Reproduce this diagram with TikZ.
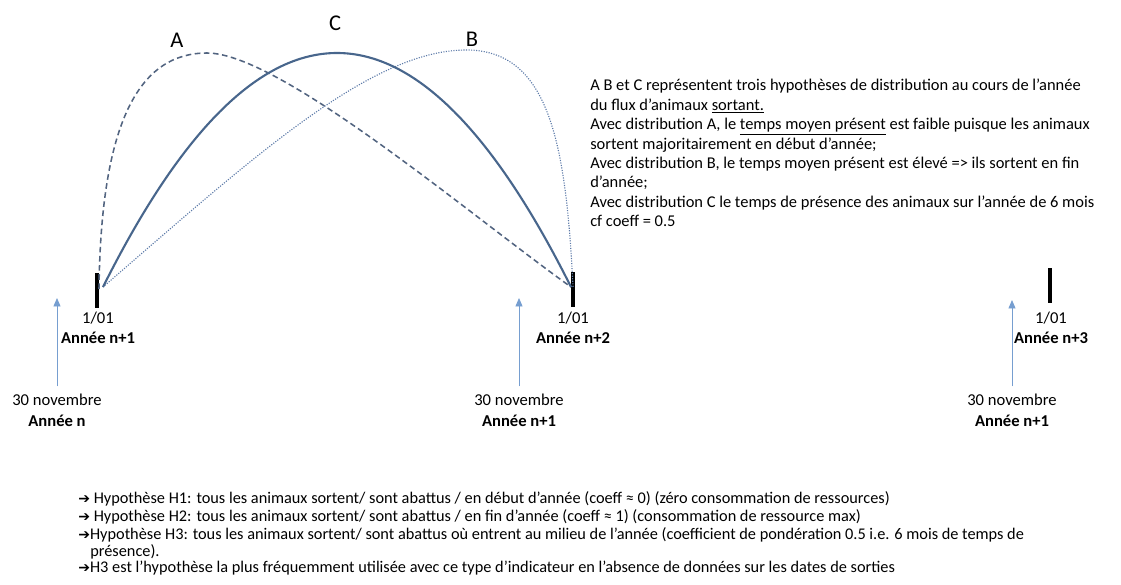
\documentclass[tikz,border=0pt]{standalone}
\usepackage{fontspec}
\setmainfont{Carlito}
\newfontfamily\symfont{DejaVu Sans}
\usetikzlibrary{positioning, arrows.meta, calc}

\definecolor{curveC}{RGB}{72,102,140}
\definecolor{curveA}{RGB}{82,100,128}
\definecolor{curveB}{RGB}{92,122,168}
\definecolor{novarrow}{RGB}{118,158,208}

\newcommand{\harrow}{{\symfont\fontsize{10}{12}\selectfont ➔}}

\begin{document}
\begin{tikzpicture}[
    x=0.025cm, y=-0.025cm,
    font=\fontsize{11.8}{14.2}\selectfont,
    tick/.style={line width=2.2pt, black},
    datelabel/.style={align=center, inner sep=0pt, anchor=north},
    novlabel/.style={align=center, inner sep=0pt, font=\fontsize{11.8}{14.8}\selectfont},
    novline/.style={draw=novarrow, line width=0.6pt, -{Triangle[length=6pt, width=5pt]}},
    distA/.style={draw=curveA, line width=1.1pt, dash pattern=on 4pt off 2.5pt},
    distB/.style={draw=curveB, line width=0.8pt, densely dotted},
    distC/.style={draw=curveC, line width=1.5pt},
    curvename/.style={font=\fontsize{16}{18}\selectfont, inner sep=0pt},
    hyp/.style={anchor=base west, inner sep=0pt, font=\fontsize{11.6}{13.5}\selectfont},
  ]
\useasboundingbox (0,0) rectangle (1121,585);

% ticks 1/01
\coordinate (t1top) at (97,273);  \coordinate (t1bot) at (97,308);
\coordinate (t2top) at (573,272); \coordinate (t2bot) at (573,307);
\coordinate (t3top) at (1050,268); \coordinate (t3bot) at (1050,303);
\draw[tick] (t1top) -- (t1bot);
\draw[tick] (t2top) -- (t2bot);
\draw[tick] (t3top) -- (t3bot);

\node[datelabel] (d1) at (98,312) {1/01\\ \textbf{Année n+1}};
\node[datelabel] (d2) at (573,312) {1/01\\ \textbf{Année n+2}};
\node[datelabel] (d3) at (1051,312) {1/01\\ \textbf{Année n+3}};

% 30 novembre
\node[novlabel] (nov1) at (57,410) {30 novembre\\ \textbf{Année n}};
\node[novlabel] (nov2) at (519,410) {30 novembre\\ \textbf{Année n+1}};
\node[novlabel] (nov3) at (1012,410) {30 novembre\\ \textbf{Année n+1}};
\coordinate (a1) at (57,298);
\coordinate (a2) at (519,298);
\coordinate (a3) at (1012,300);
\draw[novline] (nov1.north) ++(0,-7) -- (a1);
\draw[novline] (nov2.north) ++(0,-7) -- (a2);
\draw[novline] (nov3.north) ++(0,-7) -- (a3);

% distributions
\coordinate (sA) at (99,289);  \coordinate (eA) at (571,287);
\coordinate (sB) at (103,287); \coordinate (eB) at (573,287);
\coordinate (sC) at (103,287); \coordinate (eC) at (571,287);
\coordinate (pA) at (207,53);
\coordinate (pB) at (466,50);
\draw[distA] (sA) .. controls (101,120) and (140,53) .. (pA)
                  .. controls (280,53) and (470,215) .. (eA);
\draw[distB] (sB) .. controls (250,160) and (370,50) .. (pB)
                  .. controls (548,50) and (566,140) .. (eB);
\draw[distC] (sC) .. controls (259,-25) and (415,-25) .. (eC);

\node[curvename] (lA) at (177,40) {A};
\node[curvename] (lC) at (335,23) {C};
\node[curvename] (lB) at (472,39) {B};

% explications
\node[anchor=north west, align=left, inner sep=0pt,
      font=\fontsize{11.7}{13.8}\selectfont] (expl) at (590,79) {%
A B et C représentent trois hypothèses de distribution au cours de l’année\\
du flux d’animaux \underline{sortant.}\\
Avec distribution A, le \underline{temps moyen présent} est faible puisque les animaux\\
sortent majoritairement en début d’année;\\
Avec distribution B, le temps moyen présent est élevé => ils sortent en fin\\
d’année;\\
Avec distribution C le temps de présence des animaux sur l’année de 6 mois\\
cf coeff = 0.5};

% hypotheses
\node[hyp] (h1) at (78,503) {\harrow\ Hypothèse H1: tous les animaux sortent/ sont abattus / en début d’année (coeff ≈ 0) (zéro consommation de ressources)};
\node[hyp] (h2) at (78,521) {\harrow\ Hypothèse H2: tous les animaux sortent/ sont abattus / en fin d’année (coeff ≈ 1) (consommation de ressource max)};
\node[hyp] (h3) at (78,539) {\harrow Hypothèse H3: tous les animaux sortent/ sont abattus où entrent au milieu de l’année (coefficient de pondération 0.5 i.e. 6 mois de temps de};
\node[hyp] (h3b) at (90,556) {présence).};
\node[hyp] (h4) at (78,572) {\harrow H3 est l’hypothèse la plus fréquemment utilisée avec ce type d’indicateur en l’absence de données sur les dates de sorties};
\end{tikzpicture}
\end{document}
